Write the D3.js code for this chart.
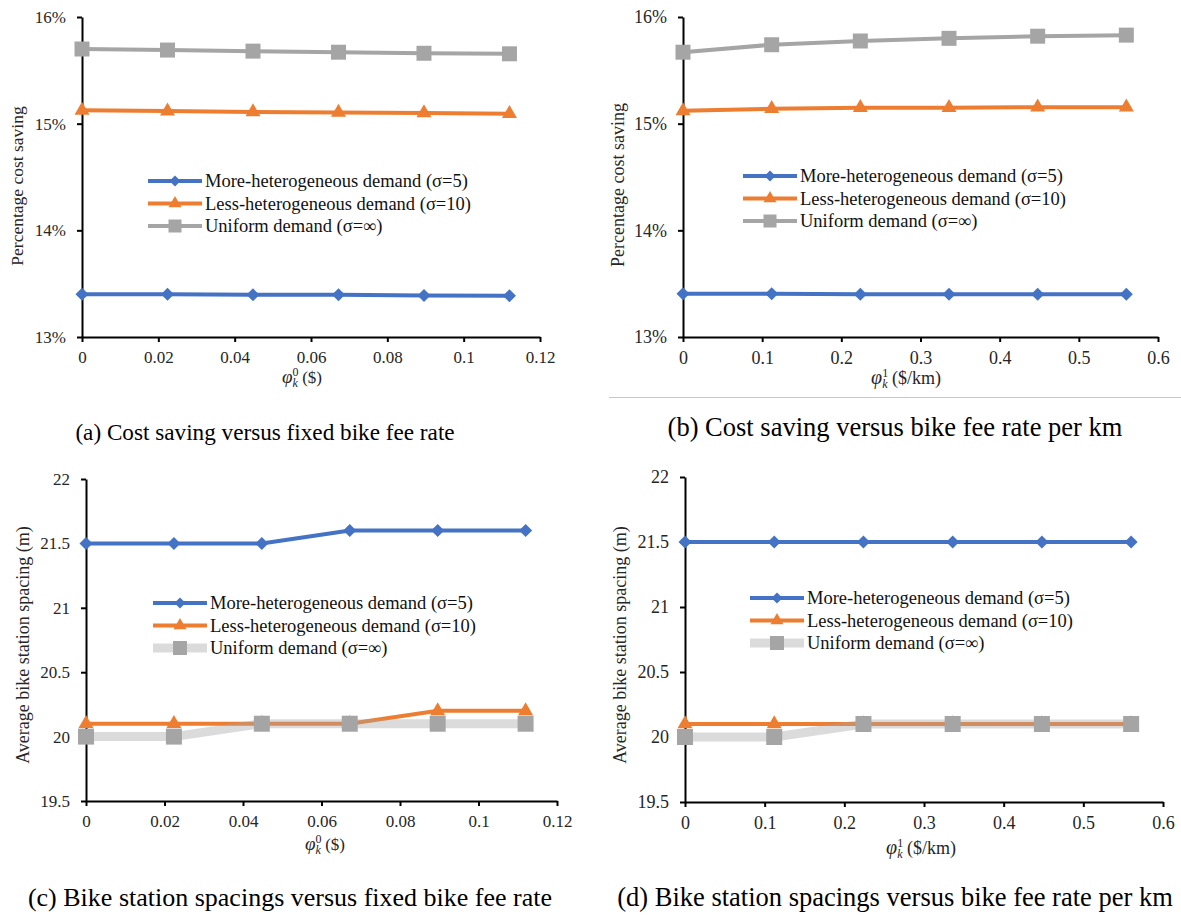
<!DOCTYPE html>
<html>
<head>
<meta charset="utf-8">
<script src="https://cdn.jsdelivr.net/npm/d3@7"></script>
<style>
  body { margin: 0; background: #fff; }
  svg { display: block; }
  text { font-family: "Liberation Serif", "Times New Roman", serif; }
</style>
</head>
<body>
<div id="container"></div>
<script>
// x positions (fee rates)
const xFixed = [0, 0.0224, 0.0448, 0.0672, 0.0896, 0.112];
const xPerKm = [0, 0.112, 0.224, 0.336, 0.448, 0.56];

// tick labels
const xTicksFixed = [0, 0.02, 0.04, 0.06, 0.08, 0.1, 0.12];
const xTicksKm = [0, 0.1, 0.2, 0.3, 0.4, 0.5, 0.6];
const yTicksSaving = [13, 14, 15, 16];
const yTicksSpacing = [19.5, 20, 20.5, 21, 21.5, 22];

// (a) percentage cost saving vs fixed fee
const savingFixedMore = [13.40, 13.40, 13.395, 13.395, 13.39, 13.387];
const savingFixedLess = [15.125, 15.118, 15.11, 15.105, 15.10, 15.093];
const savingFixedUniform = [15.70, 15.69, 15.68, 15.67, 15.66, 15.655];

// (b) percentage cost saving vs fee per km
const savingKmMore = [13.405, 13.405, 13.40, 13.40, 13.40, 13.40];
const savingKmLess = [15.12, 15.14, 15.15, 15.15, 15.155, 15.155];
const savingKmUniform = [15.67, 15.74, 15.775, 15.80, 15.82, 15.83];

// (c) average bike station spacing vs fixed fee
const spacingFixedMore = [21.5, 21.5, 21.5, 21.6, 21.6, 21.6];
const spacingFixedLess = [20.1, 20.1, 20.1, 20.1, 20.2, 20.2];
const spacingFixedUniform = [20.0, 20.0, 20.1, 20.1, 20.1, 20.1];

// (d) average bike station spacing vs fee per km
const spacingKmMore = [21.5, 21.5, 21.5, 21.5, 21.5, 21.5];
const spacingKmLess = [20.1, 20.1, 20.1, 20.1, 20.1, 20.1];
const spacingKmUniform = [20.0, 20.0, 20.1, 20.1, 20.1, 20.1];

const seriesNames = [
   'More-heterogeneous demand (σ=5)',
   'Less-heterogeneous demand (σ=10)',
   'Uniform demand (σ=∞)'
];
const captions = [
   '(a) Cost saving versus fixed bike fee rate',
   '(b) Cost saving versus bike fee rate per km',
   '(c) Bike station spacings versus fixed bike fee rate',
   '(d) Bike station spacings versus bike fee rate per km'
];

const w = 1181;
const h = 915;
const blue = '#4472c4';
const orange = '#ed7d31';
const grey = '#a5a5a5';
const textColor = '#262626';
const serif = '"Liberation Serif", "Times New Roman", serif';

const svg = d3.select('#container')
   .append('svg')
   .attr('width', w)
   .attr('height', h)
   .style('font-family', serif);

function marker(type, size) {
   if (type === 'diamond') {
      return d3.symbol().type(d3.symbolSquare).size(size * size / 2)();
   }
   if (type === 'triangle') {
      return d3.symbol().type(d3.symbolTriangle).size(size * size * 0.433)();
   }
   return d3.symbol().type(d3.symbolSquare).size(size * size)();
}

function drawPanel(p) {
   const x = d3.scaleLinear().domain(p.xDomain).range([p.left, p.right]);
   const y = d3.scaleLinear().domain(p.yDomain).range([p.bottom, p.top]);
   const g = svg.append('g');

   const series = [
      { values: p.more, color: blue, width: 4, opacity: 1, shape: 'diamond', size: 13 },
      { values: p.less, color: orange, width: 4, opacity: 1, shape: 'triangle', size: 15 },
      {
         values: p.uniform, color: grey,
         width: p.wideGrey ? 9 : 4, opacity: p.wideGrey ? 0.4 : 1,
         shape: 'square', size: p.wideGrey ? 16 : 15
      }
   ];

   // axes
   const xAxis = g.append('g')
      .attr('transform', 'translate(0,' + p.bottom + ')')
      .call(d3.axisBottom(x).tickValues(p.xTicks).tickFormat(d3.format('~g'))
         .tickSize(5).tickSizeOuter(0).tickPadding(9));
   const yAxis = g.append('g')
      .attr('transform', 'translate(' + p.left + ',0)')
      .call(d3.axisLeft(y).tickValues(p.yTicks).tickFormat(p.yFormat)
         .tickSize(5).tickSizeOuter(0).tickPadding(11));
   [xAxis, yAxis].forEach(a => {
      a.attr('font-family', serif).attr('font-size', p.tickFont);
      a.select('.domain').attr('stroke', '#000').attr('stroke-width', 2);
      a.selectAll('.tick line').attr('stroke', '#000').attr('stroke-width', 2);
      a.selectAll('.tick text').attr('fill', textColor);
   });

   // series
   const line = d3.line()
      .x(d => x(d[0]))
      .y(d => y(d[1]));
   series.forEach(s => {
      const pts = p.xs.map((v, i) => [v, s.values[i]]);
      g.append('path')
         .datum(pts)
         .attr('fill', 'none')
         .attr('stroke', s.color)
         .attr('stroke-width', s.width)
         .attr('stroke-opacity', s.opacity)
         .attr('d', line);
      g.selectAll(null)
         .data(pts)
         .enter()
         .append('path')
         .attr('d', marker(s.shape, s.size))
         .attr('fill', s.color)
         .attr('transform', d => 'translate(' + x(d[0]) + ',' + y(d[1]) + ')' +
            (s.shape === 'diamond' ? ' rotate(45)' : ''));
   });

   // legend
   series.forEach((s, i) => {
      const ly = p.legendY + i * 22.5;
      const lg = g.append('g');
      lg.append('line')
         .attr('x1', p.legendX)
         .attr('x2', p.legendX + 54)
         .attr('y1', ly)
         .attr('y2', ly)
         .attr('stroke', s.color)
         .attr('stroke-width', s.width)
         .attr('stroke-opacity', s.opacity);
      lg.append('path')
         .attr('d', marker(s.shape, s.size - 2))
         .attr('fill', s.color)
         .attr('transform', 'translate(' + (p.legendX + 27) + ',' + ly + ')' +
            (s.shape === 'diamond' ? ' rotate(45)' : ''));
      lg.append('text')
         .attr('x', p.legendX + 57)
         .attr('y', ly)
         .attr('dy', '0.35em')
         .attr('fill', '#111')
         .style('font-size', '18.5px')
         .text(seriesNames[i]);
   });

   // y title
   g.append('text')
      .attr('transform', 'translate(' + p.yTitleX + ',' + p.yTitleY + ') rotate(-90)')
      .attr('text-anchor', 'middle')
      .attr('dy', '0.35em')
      .attr('fill', textColor)
      .style('font-size', p.yTitleFont + 'px')
      .text(p.yTitle);

   // x title: phi_k^n (unit)
   const xt = g.append('text')
      .attr('x', p.xTitleX)
      .attr('y', p.xTitleY)
      .attr('dy', '0.35em')
      .attr('text-anchor', 'middle')
      .attr('fill', textColor)
      .style('font-size', p.tickFont + 'px');
   xt.append('tspan').style('font-style', 'italic').style('font-size', (p.tickFont + 2) + 'px').text('φ');
   xt.append('tspan').attr('dy', -7).style('font-size', '12px').text(p.phiSup);
   xt.append('tspan').attr('dx', -6).attr('dy', 11).style('font-size', '12px')
      .style('font-style', 'italic').text('k');
   xt.append('tspan').attr('dy', -4).text(' ' + p.xUnit);

   // caption
   svg.append('text')
      .attr('x', p.captionX)
      .attr('y', p.captionY)
      .attr('dy', '0.35em')
      .attr('text-anchor', 'middle')
      .attr('fill', '#000')
      .style('font-size', p.captionFont + 'px')
      .text(p.caption);
}

const pct = d => d + '%';

drawPanel({
   left: 82, right: 540, top: 17, bottom: 337, tickFont: 17,
   xDomain: [0, 0.12], xTicks: xTicksFixed, yDomain: [13, 16], yTicks: yTicksSaving, yFormat: pct,
   xs: xFixed, more: savingFixedMore, less: savingFixedLess, uniform: savingFixedUniform,
   wideGrey: false, legendX: 148, legendY: 181,
   yTitle: 'Percentage cost saving', yTitleX: 17, yTitleY: 186, yTitleFont: 17.5,
   phiSup: '0', xUnit: '($)', xTitleX: 302, xTitleY: 377,
   caption: captions[0], captionX: 265, captionY: 432, captionFont: 23.2
});
drawPanel({
   left: 683, right: 1158, top: 17, bottom: 337, tickFont: 18,
   xDomain: [0, 0.6], xTicks: xTicksKm, yDomain: [13, 16], yTicks: yTicksSaving, yFormat: pct,
   xs: xPerKm, more: savingKmMore, less: savingKmLess, uniform: savingKmUniform,
   wideGrey: false, legendX: 743, legendY: 176,
   yTitle: 'Percentage cost saving', yTitleX: 618, yTitleY: 185, yTitleFont: 18,
   phiSup: '1', xUnit: '($/km)', xTitleX: 906, xTitleY: 378,
   caption: captions[1], captionX: 895, captionY: 427, captionFont: 26.5
});
drawPanel({
   left: 86, right: 557, top: 479, bottom: 801, tickFont: 17,
   xDomain: [0, 0.12], xTicks: xTicksFixed, yDomain: [19.5, 22], yTicks: yTicksSpacing, yFormat: d3.format('~g'),
   xs: xFixed, more: spacingFixedMore, less: spacingFixedLess, uniform: spacingFixedUniform,
   wideGrey: true, legendX: 153, legendY: 603,
   yTitle: 'Average bike station spacing (m)', yTitleX: 23, yTitleY: 645, yTitleFont: 18,
   phiSup: '0', xUnit: '($)', xTitleX: 325, xTitleY: 844,
   caption: captions[2], captionX: 290, captionY: 897, captionFont: 26
});
drawPanel({
   left: 685, right: 1163, top: 477, bottom: 802, tickFont: 18,
   xDomain: [0, 0.6], xTicks: xTicksKm, yDomain: [19.5, 22], yTicks: yTicksSpacing, yFormat: d3.format('~g'),
   xs: xPerKm, more: spacingKmMore, less: spacingKmLess, uniform: spacingKmUniform,
   wideGrey: true, legendX: 750, legendY: 598,
   yTitle: 'Average bike station spacing (m)', yTitleX: 620, yTitleY: 645, yTitleFont: 18,
   phiSup: '1', xUnit: '($/km)', xTitleX: 921, xTitleY: 848,
   caption: captions[3], captionX: 895, captionY: 897, captionFont: 26.5
});

// thin separator under panel (b)
svg.append('line')
   .attr('x1', 609)
   .attr('x2', w)
   .attr('y1', 397.5)
   .attr('y2', 397.5)
   .attr('stroke', '#c8c8c8')
   .attr('stroke-width', 1);
</script>
</body>
</html>
